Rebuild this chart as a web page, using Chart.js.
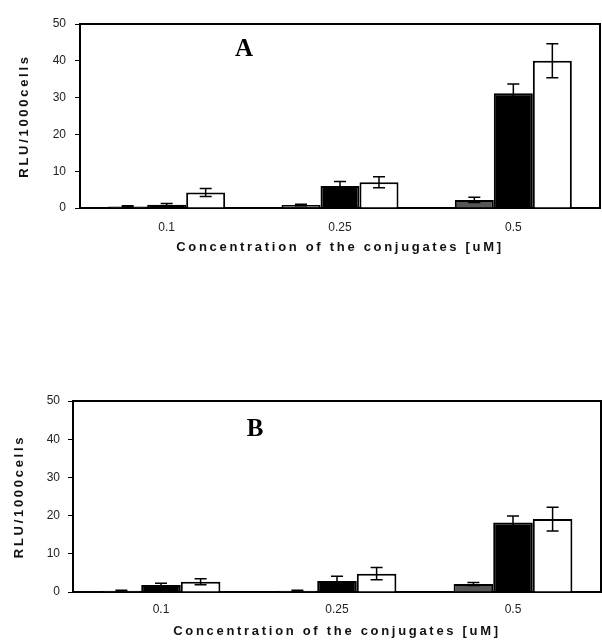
<!DOCTYPE html>
<html>
<head>
<meta charset="utf-8">
<script src="https://cdn.jsdelivr.net/npm/chart.js@4.4.1/dist/chart.umd.min.js"></script>
<style>
  body { margin: 0; background: #fff; }
  canvas { position: absolute; left: 0; }
  #chartA { top: 0; }
  #chartB { top: 380px; }
</style>
</head>
<body>
<canvas id="chartA" width="602" height="262"></canvas>
<canvas id="chartB" width="602" height="262"></canvas>
<script>
const concentrations = ['0.1', '0.25', '0.5'];
const yTicks = [0, 10, 20, 30, 40, 50];

// panel A
const greyA = [0.4, 0.8, 2.2];
const greyErrA = [0.2, 0.2, 0.7];
const blackA = [0.9, 6.0, 31.2];
const blackErrA = [0.3, 1.2, 2.5];
const whiteA = [4.2, 7.0, 40.0];
const whiteErrA = [1.1, 1.5, 4.6];

// panel B
const greyB = [0.35, 0.35, 2.1];
const greyErrB = [0.1, 0.1, 0.4];
const blackB = [1.8, 2.9, 18.2];
const blackErrB = [0.5, 1.2, 1.7];
const whiteB = [2.7, 4.8, 19.1];
const whiteErrB = [0.8, 1.6, 3.1];

const xTitle = 'Concentration of the conjugates [uM]';
const yTitle = 'RLU/1000cells';

const sans = '"Liberation Sans", Arial, sans-serif';

const extrasPlugin = {
  id: 'extras',
  afterDatasetsDraw(chart, args, o) {
    const ctx = chart.ctx;
    const y = chart.scales.y;
    ctx.save();
    ctx.strokeStyle = '#000';
    ctx.lineWidth = 1.5;
    chart.data.datasets.forEach((ds, i) => {
      const meta = chart.getDatasetMeta(i);
      meta.data.forEach((bar, j) => {
        const v = ds.data[j], e = ds.errors[j];
        const top = y.getPixelForValue(v + e);
        const bot = y.getPixelForValue(Math.max(v - e, 0));
        ctx.beginPath();
        ctx.moveTo(bar.x, top); ctx.lineTo(bar.x, bot);
        ctx.moveTo(bar.x - 6, top); ctx.lineTo(bar.x + 6, top);
        ctx.moveTo(bar.x - 6, bot); ctx.lineTo(bar.x + 6, bot);
        ctx.stroke();
      });
    });
    ctx.restore();
  },
  afterDraw(chart, args, o) {
    const ctx = chart.ctx;
    const a = chart.chartArea;
    ctx.save();
    // frame top and right
    ctx.strokeStyle = '#000';
    ctx.lineWidth = 2;
    ctx.beginPath();
    ctx.moveTo(a.left, a.top); ctx.lineTo(a.right, a.top); ctx.lineTo(a.right, a.bottom);
    ctx.stroke();
    // panel letter
    ctx.fillStyle = '#000';
    ctx.font = 'bold 25px "Liberation Serif", "Times New Roman", serif';
    ctx.textAlign = 'center';
    ctx.textBaseline = 'middle';
    ctx.fillText(o.letter, o.letterX, o.letterY);
    // axis titles with spacing
    ctx.font = 'bold 13px ' + sans;
    ctx.letterSpacing = '2.7px';
    ctx.fillStyle = '#111';
    ctx.fillText(xTitle, (a.left + a.right) / 2, o.xTitleY);
    ctx.translate(o.yTitleX, (a.top + a.bottom) / 2);
    ctx.rotate(-Math.PI / 2);
    ctx.fillText(yTitle, 0, 0);
    ctx.restore();
  }
};

function makeChart(id, grey, greyErr, black, blackErr, white, whiteErr, lay) {
  const ctx = document.getElementById(id).getContext('2d');
  return new Chart(ctx, {
    type: 'bar',
    data: {
      labels: concentrations,
      datasets: [
        { data: grey, errors: greyErr, backgroundColor: '#565656' },
        { data: black, errors: blackErr, backgroundColor: '#000' },
        { data: white, errors: whiteErr, backgroundColor: '#fff' }
      ]
    },
    options: {
      responsive: false,
      animation: false,
      layout: { padding: { top: lay.top, right: lay.right, left: 0, bottom: 0 } },
      datasets: {
        bar: {
          borderColor: '#000',
          borderWidth: 2,
          categoryPercentage: 0.675,
          barPercentage: 1.0
        }
      },
      scales: {
        x: {
          grid: { display: false },
          border: { display: true, color: '#000', width: 2 },
          ticks: { color: '#222', font: { family: sans, size: 12 }, padding: lay.tickPad, maxRotation: 0 },
          afterFit: s => { s.height = lay.xHeight; }
        },
        y: {
          min: 0,
          max: 50,
          afterBuildTicks: s => { s.ticks = yTicks.map(v => ({ value: v })); },
          grid: { color: 'rgba(0,0,0,0)', tickColor: '#000', tickLength: 5, drawOnChartArea: false },
          border: { display: true, color: '#000', width: 2 },
          ticks: { color: '#222', font: { family: sans, size: 12 }, padding: lay.yPad },
          afterFit: s => { s.width = lay.left; }
        }
      },
      plugins: {
        legend: { display: false },
        tooltip: { enabled: false },
        extras: lay
      }
    },
    plugins: [extrasPlugin]
  });
}

makeChart('chartA', greyA, greyErrA, blackA, blackErrA, whiteA, whiteErrA, {
  top: 24, right: 2, left: 80, xHeight: 54, tickPad: 4, yPad: 9,
  letter: 'A', letterX: 244, letterY: 50, xTitleY: 247, yTitleX: 24
});

makeChart('chartB', greyB, greyErrB, blackB, blackErrB, whiteB, whiteErrB, {
  top: 21, right: 1, left: 73, xHeight: 50, tickPad: 2, yPad: 8,
  letter: 'B', letterX: 255, letterY: 50, xTitleY: 251, yTitleX: 19
});
</script>
</body>
</html>
